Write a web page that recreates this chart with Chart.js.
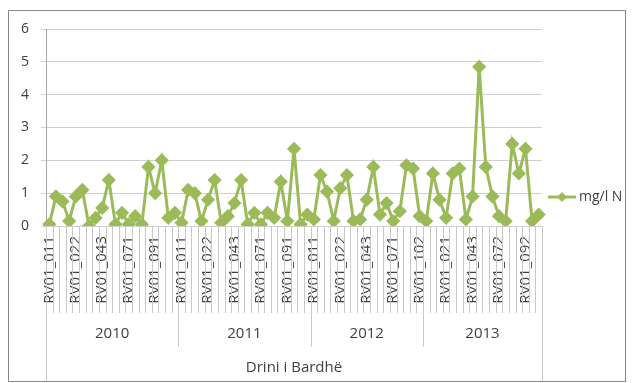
<!DOCTYPE html>
<html>
<head>
<meta charset="utf-8">
<script src="https://cdn.jsdelivr.net/npm/chart.js@4"></script>
<style>
html,body{margin:0;padding:0;background:#fff;}
#wrap{width:634px;height:383px;position:relative;}
</style>
</head>
<body>
<div id="wrap"><canvas id="c" width="634" height="383"></canvas></div>
<script>
// ---- data ----
const years = ["2010", "2011", "2012", "2013"];
const groupName = "Drini i Bardhë";
const seriesName = "mg/l N";
const stations2010 = ["RV01_011","RV01_012","RV01_013","RV01_021","RV01_022","RV01_031","RV01_032","RV01_041","RV01_043","RV01_051","RV01_061","RV01_062","RV01_071","RV01_072","RV01_081","RV01_082","RV01_091","RV01_092","RV01_101","RV01_102"];
const stations2011 = ["RV01_011","RV01_012","RV01_013","RV01_021","RV01_022","RV01_031","RV01_032","RV01_041","RV01_043","RV01_051","RV01_061","RV01_062","RV01_071","RV01_072","RV01_081","RV01_082","RV01_091","RV01_092","RV01_101","RV01_102"];
const stations2012 = ["RV01_011","RV01_012","RV01_013","RV01_021","RV01_022","RV01_031","RV01_041","RV01_042","RV01_043","RV01_051","RV01_061","RV01_062","RV01_071","RV01_081","RV01_091","RV01_101","RV01_102"];
const stations2013 = ["RV01_011","RV01_012","RV01_013","RV01_021","RV01_022","RV01_031","RV01_041","RV01_043","RV01_051","RV01_061","RV01_071","RV01_072","RV01_081","RV01_082","RV01_091","RV01_092","RV01_101","RV01_102"];
const values2010 = [0.05, 0.9, 0.75, 0.15, 0.9, 1.1, 0.0, 0.25, 0.55, 1.4, 0.05, 0.4, 0.05, 0.3, 0.05, 1.8, 1.0, 2.0, 0.25, 0.4];
const values2011 = [0.1, 1.1, 1.0, 0.15, 0.8, 1.4, 0.1, 0.3, 0.7, 1.4, 0.05, 0.4, 0.05, 0.4, 0.25, 1.35, 0.15, 2.35, 0.05, 0.35];
const values2012 = [0.2, 1.55, 1.05, 0.15, 1.15, 1.55, 0.15, 0.2, 0.8, 1.8, 0.35, 0.7, 0.15, 0.45, 1.85, 1.75, 0.3];
const values2013 = [0.15, 1.6, 0.8, 0.25, 1.6, 1.75, 0.2, 0.9, 4.85, 1.8, 0.9, 0.3, 0.15, 2.5, 1.6, 2.35, 0.15, 0.35];
const yTicks = [0, 1, 2, 3, 4, 5, 6];

// ---- derived ----
const stationsByYear = [stations2010, stations2011, stations2012, stations2013];
const labels = [].concat(...stationsByYear);
const values = [].concat(values2010, values2011, values2012, values2013);
const N = labels.length;

const GREEN = "#9BBB59";
const TEXT = "#404040";
const FONT = "'Open Sans', 'Noto Sans', sans-serif";

const multiLevel = {
  id: "multiLevel",
  beforeDraw(chart) {
    const ctx = chart.ctx;
    ctx.save();
    ctx.fillStyle = "#fff";
    ctx.fillRect(0, 0, chart.width, chart.height);
    ctx.restore();
  },
  afterDraw(chart) {
    const ctx = chart.ctx;
    const xs = chart.scales.x;
    const area = chart.chartArea;
    const half = (xs.getPixelForValue(1) - xs.getPixelForValue(0)) / 2;
    const bnd = i => xs.getPixelForValue(i) - half;
    const y0 = area.bottom;
    const yTickEnd = y0 + 87;
    const yYearEnd = y0 + 121;
    const yOuterEnd = y0 + 155;
    // year boundaries
    const starts = [0];
    stationsByYear.forEach((s, k) => starts.push(starts[k] + s.length));
    ctx.save();
    ctx.strokeStyle = "#c8c8c8";
    ctx.lineWidth = 1;
    for (let i = 0; i <= N; i++) {
      let end = yTickEnd;
      if (i === 0 || i === N) end = yOuterEnd;
      else if (starts.includes(i)) end = yYearEnd;
      const x = Math.round(bnd(i)) + 0.5;
      ctx.beginPath();
      ctx.moveTo(x, y0);
      ctx.lineTo(x, end);
      ctx.stroke();
    }
    ctx.fillStyle = TEXT;
    ctx.font = "15px " + FONT;
    ctx.textAlign = "center";
    ctx.textBaseline = "middle";
    years.forEach((yr, k) => {
      const cx = (bnd(starts[k]) + bnd(starts[k + 1])) / 2;
      ctx.fillText(yr, cx, y0 + 108);
    });
    ctx.fillText(groupName, (bnd(0) + bnd(N)) / 2, y0 + 142);

    // legend
    const ly = 197;
    ctx.strokeStyle = GREEN;
    ctx.lineWidth = 3;
    ctx.beginPath();
    ctx.moveTo(548, ly);
    ctx.lineTo(576, ly);
    ctx.stroke();
    ctx.fillStyle = GREEN;
    ctx.beginPath();
    ctx.moveTo(562, ly - 5);
    ctx.lineTo(567, ly);
    ctx.lineTo(562, ly + 5);
    ctx.lineTo(557, ly);
    ctx.closePath();
    ctx.fill();
    ctx.fillStyle = TEXT;
    ctx.textAlign = "left";
    ctx.font = "14px " + FONT;
    ctx.fillText(seriesName, 579, ly);

    // outer border
    ctx.strokeStyle = "#8a8a8a";
    ctx.lineWidth = 1;
    ctx.strokeRect(8.5, 10.5, 617, 371);
    ctx.restore();
  }
};

new Chart(document.getElementById("c"), {
  type: "line",
  data: {
    labels: labels,
    datasets: [{
      label: seriesName,
      data: values,
      borderColor: GREEN,
      backgroundColor: GREEN,
      borderWidth: 3,
      pointStyle: "rectRot",
      pointRadius: 5,
      pointHoverRadius: 5,
      pointBackgroundColor: GREEN,
      pointBorderColor: GREEN,
      tension: 0
    }]
  },
  options: {
    responsive: false,
    animation: false,
    devicePixelRatio: 1,
    layout: { padding: { left: 0, top: 29, right: 92, bottom: 0 } },
    plugins: { legend: { display: false }, tooltip: { enabled: false } },
    scales: {
      x: {
        type: "category",
        offset: true,
        grid: { display: false, drawTicks: false },
        border: { display: false },
        afterFit(s) { s.height = 157; },
        ticks: {
          autoSkip: false,
          minRotation: 90,
          maxRotation: 90,
          padding: 10,
          color: TEXT,
          font: { family: FONT, size: 15 },
          callback(val, idx) { return idx % 4 === 0 ? this.getLabelForValue(val) : ""; }
        }
      },
      y: {
        min: yTicks[0],
        max: yTicks[yTicks.length - 1],
        afterFit(s) { s.width = 46; },
        afterBuildTicks(s) { s.ticks = yTicks.map(v => ({ value: v })); },
        grid: { color: "#cfcfcf", lineWidth: 1, drawTicks: true, tickLength: 5 },
        border: { display: true, color: "#a6a6a6" },
        ticks: {
          padding: 12,
          color: TEXT,
          font: { family: FONT, size: 14 }
        }
      }
    }
  },
  plugins: [multiLevel]
});
</script>
</body>
</html>
